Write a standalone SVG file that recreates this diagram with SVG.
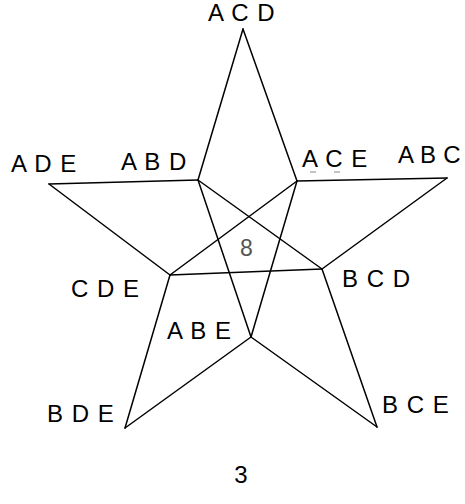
<svg xmlns="http://www.w3.org/2000/svg" width="465" height="504" viewBox="0 0 465 504">
<style>
.e{stroke:#000;stroke-width:1.5;fill:none;stroke-linecap:round}
.t{font-family:"Liberation Sans",Arial,sans-serif;font-size:24px;fill:#000;letter-spacing:1px}
.m{stroke:#888;stroke-width:1}
</style>
<rect width="465" height="504" fill="#fff"/>
<g id="connectors">
<line class="e" x1="243" y1="29" x2="198" y2="180"/>
<line class="e" x1="243" y1="29" x2="297" y2="181"/>
<line class="e" x1="198" y1="180" x2="49" y2="184"/>
<line class="e" x1="49" y1="184" x2="170" y2="275"/>
<line class="e" x1="170" y1="275" x2="125" y2="428"/>
<line class="e" x1="125" y1="428" x2="251" y2="337"/>
<line class="e" x1="251" y1="337" x2="377" y2="427"/>
<line class="e" x1="377" y1="427" x2="322" y2="269"/>
<line class="e" x1="322" y1="269" x2="447" y2="178"/>
<line class="e" x1="447" y1="178" x2="297" y2="181"/>
<line class="e" x1="198" y1="180" x2="322" y2="269"/>
<line class="e" x1="198" y1="180" x2="251" y2="337"/>
<line class="e" x1="297" y1="181" x2="170" y2="275"/>
<line class="e" x1="297" y1="181" x2="251" y2="337"/>
<line class="e" x1="170" y1="275" x2="322" y2="269"/>
</g>
<g id="ACD"><text class="t" x="208" y="21">A C D</text></g>
<g id="ADE"><text class="t" x="11" y="172">A D E</text></g>
<g id="ABD"><text class="t" x="121" y="170">A B D</text></g>
<g id="ACE"><text class="t" x="302" y="167">A C E</text><line class="m" x1="310" y1="172" x2="316" y2="172"/><line class="m" x1="334" y1="172" x2="340" y2="172"/></g>
<g id="ABC"><text class="t" x="398" y="163" style="letter-spacing:0.3px">A B C</text></g>
<g id="CDE"><text class="t" x="71" y="297">C D E</text></g>
<g id="BCD"><text class="t" x="342" y="287">B C D</text></g>
<g id="ABE"><text class="t" x="167" y="339">A B E</text></g>
<g id="BDE"><text class="t" x="47" y="422">B D E</text></g>
<g id="BCE"><text class="t" x="382" y="413">B C E</text></g>
<g id="center"><text x="246.5" y="256" text-anchor="middle" font-family="'Liberation Sans',Arial,sans-serif" font-size="23" fill="#555">8</text></g>
<g id="page"><text x="241" y="483" text-anchor="middle" font-family="'Liberation Sans',Arial,sans-serif" font-size="24" fill="#000">3</text></g>
</svg>
